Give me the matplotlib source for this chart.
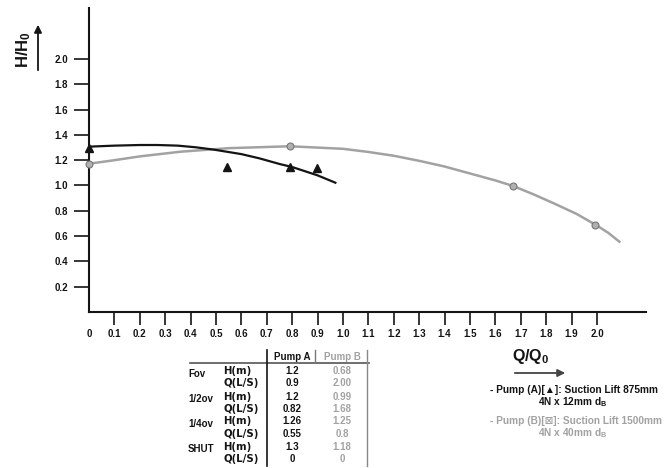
import matplotlib
matplotlib.use('Agg')
import matplotlib.pyplot as plt
from matplotlib.lines import Line2D
from matplotlib.patches import FancyArrowPatch

plt.rcParams['font.family'] = ['Liberation Sans', 'DejaVu Sans']
plt.rcParams['font.weight'] = 'bold'
plt.rcParams['mathtext.fontset'] = 'custom'
plt.rcParams['mathtext.rm'] = 'Liberation Sans:bold'
plt.rcParams['mathtext.it'] = 'Liberation Sans:bold'
plt.rcParams['mathtext.bf'] = 'Liberation Sans:bold'

W, H = 665, 468
BLACK = '#141414'
GRAY = '#a2a2a2'

# pump A curve (Q/Q0, H/H0)
a_curve_q = [0.0, 0.1, 0.2, 0.27, 0.35, 0.42, 0.49, 0.6, 0.67, 0.75, 0.8, 0.9, 0.97]
a_curve_h = [1.307, 1.315, 1.32, 1.32, 1.315, 1.302, 1.284, 1.248, 1.215, 1.17, 1.146, 1.08, 1.022]
# pump A measured points
a_pts_q = [0.0, 0.545, 0.79, 0.897]
a_pts_h = [1.30, 1.15, 1.15, 1.14]

# pump B curve
b_curve_q = [0.0, 0.1, 0.2, 0.36, 0.55, 0.79, 1.0, 1.1, 1.2, 1.3, 1.4, 1.5, 1.6, 1.67, 1.75, 1.83, 1.92, 2.0, 2.045, 2.088]
b_curve_h = [1.172, 1.2, 1.23, 1.267, 1.295, 1.31, 1.29, 1.265, 1.235, 1.195, 1.15, 1.095, 1.04, 0.996, 0.93, 0.859, 0.775, 0.683, 0.625, 0.556]
# pump B measured points
b_pts_q = [0.0, 0.79, 1.668, 1.993]
b_pts_h = [1.17, 1.31, 0.996, 0.685]

x_ticks = [0.1 * i for i in range(0, 21)]
x_labels = ['0'] + ['%.1f' % v for v in x_ticks[1:]]
y_ticks = [0.2 * i for i in range(1, 11)]
y_labels = ['%.1f' % v for v in y_ticks]

# table contents
groups = ['Fov', '1/2ov', '1/4ov', 'SHUT']
row_units = ['H(m)', 'Q(L/S)'] * 4
pump_a_vals = ['1.2', '0.9', '1.2', '0.82', '1.26', '0.55', '1.3', '0']
pump_b_vals = ['0.68', '2.00', '0.99', '1.68', '1.25', '0.8', '1.18', '0']


def fx(px):
    return px / W


def fy(py):
    return 1 - py / H


fig = plt.figure(figsize=(W / 100, H / 100), dpi=100)
ax = fig.add_axes([fx(89), 156 / H, (646 - 89) / W, (312 - 8) / H])

ax.plot(b_curve_q, b_curve_h, color=GRAY, lw=1.8, zorder=2)
ax.plot(a_curve_q, a_curve_h, color=BLACK, lw=1.6, zorder=3)
ax.plot(b_pts_q, b_pts_h, ls='none', marker='o', ms=5, mfc='#b0b0b0', mec='#777777',
        mew=0.8, zorder=4, clip_on=False)
ax.plot(a_pts_q, a_pts_h, ls='none', marker='^', ms=5.5, color=BLACK, zorder=5, clip_on=False)

ax.set_xlim(0, 2.193)
ax.set_ylim(0, 2.403)
for s in ['top', 'right']:
    ax.spines[s].set_visible(False)
for s in ['left', 'bottom']:
    ax.spines[s].set_linewidth(1.5)
    ax.spines[s].set_color(BLACK)

ax.set_xticks(x_ticks)
ax.set_xticklabels(x_labels)
ax.set_yticks(y_ticks)
ax.set_yticklabels(y_labels)
ax.tick_params(axis='x', length=9, width=1.2, pad=3, labelsize=7, colors=BLACK)
ax.tick_params(axis='y', length=11, width=1.2, pad=4, labelsize=7, colors=BLACK)
ax.xaxis.get_major_ticks()[0].tick1line.set_visible(False)
for t in ax.get_xticklabels() + ax.get_yticklabels():
    t.set_fontweight('bold')

# axis names with arrows
fig.text(fx(24), fy(50), r'H/H$_0$', rotation=90, ha='center', va='center',
         fontsize=12, fontweight='bold', color=BLACK)
fig.add_artist(FancyArrowPatch((fx(38), fy(73)), (fx(38), fy(22)),
               transform=fig.transFigure, arrowstyle='-|>', mutation_scale=11,
               color=BLACK, lw=1.3))
fig.text(fx(531), fy(357), r'Q/Q$_0$', ha='center', va='center',
         fontsize=11.5, fontweight='bold', color=BLACK)
fig.add_artist(FancyArrowPatch((fx(512), fy(373)), (fx(568), fy(373)),
               transform=fig.transFigure, arrowstyle='-|>', mutation_scale=11,
               color='#444444', lw=1.3))

# data table below the chart
fs = 7
fig.text(fx(292), fy(357), 'Pump A', ha='center', va='center', fontsize=fs, color=BLACK)
fig.text(fx(342), fy(357), 'Pump B', ha='center', va='center', fontsize=fs, color=GRAY)
row_y = [371.5, 383.5, 396.5, 409.5, 421.5, 434, 446.5, 458.5]
for i, y in enumerate(row_y):
    fig.text(fx(223), fy(y), row_units[i], ha='left', va='center', fontsize=7.3,
             family='DejaVu Sans', color=BLACK)
    fig.text(fx(292), fy(y), pump_a_vals[i], ha='center', va='center', fontsize=fs, color=BLACK)
    fig.text(fx(342), fy(y), pump_b_vals[i], ha='center', va='center', fontsize=fs, color=GRAY)
for i, g in enumerate(groups):
    fig.text(fx(188), fy(row_y[2 * i] + 2.5), g, ha='left', va='center', fontsize=fs, color=BLACK)

fig.add_artist(Line2D([fx(190), fx(369)], [fy(363), fy(363)], color='#555555', lw=1.2))
fig.add_artist(Line2D([fx(267), fx(267)], [fy(350), fy(466)], color=BLACK, lw=1.2))
fig.add_artist(Line2D([fx(315), fx(315)], [fy(350), fy(362)], color='#777777', lw=1.0))
fig.add_artist(Line2D([fx(367), fx(367)], [fy(350), fy(466)], color='#888888', lw=1.0))

# pump descriptions
fig.text(fx(490), fy(390), '- Pump (A)[\u25b2]: Suction Lift 875mm', ha='left', va='center',
         fontsize=7.3, color=BLACK)
fig.text(fx(538), fy(402), r'4N x 12mm d$_\mathrm{B}$', ha='left', va='center',
         fontsize=7.3, color=BLACK)
fig.text(fx(490), fy(421), '- Pump (B)[\u22a0]: Suction Lift 1500mm', ha='left', va='center',
         fontsize=7.3, color=GRAY)
fig.text(fx(538), fy(433), r'4N x 40mm d$_\mathrm{B}$', ha='left', va='center',
         fontsize=7.3, color=GRAY)

fig.savefig('out.png', dpi=100)
